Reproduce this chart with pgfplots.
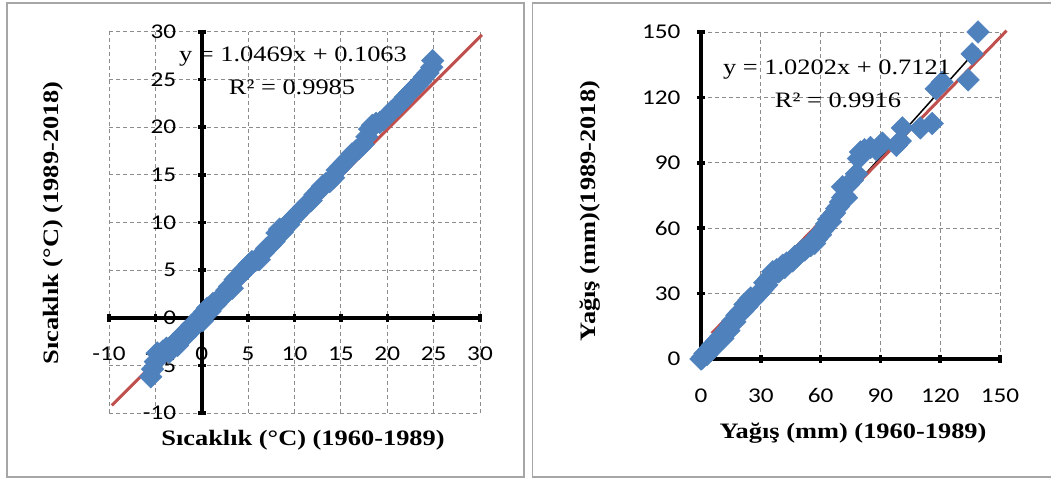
\documentclass[border=0pt]{standalone}
\usepackage{fontspec}
\setmainfont{Liberation Serif}[FakeStretch=1.2]
\newfontfamily\tickfont{Carlito}[FakeStretch=1.2]
\usepackage{pgfplots}
\pgfplotsset{compat=1.18}
\definecolor{xblue}{HTML}{4F81BD}
\definecolor{xred}{HTML}{C0504D}
\definecolor{xgrid}{HTML}{8C8C8C}
\definecolor{xbox}{HTML}{A6A6A6}
\pgfplotsset{
  common/.style={
    scale only axis, clip=false,
    tick align=outside,
    major tick length=8pt,
    grid=major,
    major grid style={xgrid, line width=1pt, dash pattern=on 4pt off 3pt},
    tick label style={font=\tickfont\fontsize{21}{24}\selectfont, text=black},
    xticklabel style={yshift=-22pt},
    hide obscured x ticks=false, hide obscured y ticks=false,
  },
  thickax/.style={
    every axis line/.append style={line width=3.5pt},
    axis line style={-, line width=3.5pt, black},
    x axis line style={-, line width=3.5pt},
    y axis line style={-, line width=3.5pt},
    every major tick/.append style={black, line width=3.5pt},
  },
  pts/.style={only marks, mark=square*, mark size=8pt, color=xblue, mark options={rotate=45, fill=xblue, draw=xblue}},
}
\begin{document}
\begin{tikzpicture}[x=1pt,y=1pt]
\useasboundingbox (0,0) rectangle (1051,483);
\draw[xbox, line width=1.3pt] (7,6) rectangle (524,480);
\draw[xbox, line width=1.3pt] (532.5,6) rectangle (1070,480);

\begin{axis}[common,
  at={(109pt,70pt)}, anchor=south west,
  width=371pt, height=381pt,
  xmin=-10, xmax=30, ymin=-10, ymax=30,
  axis lines=middle, thickax,
  yticklabel style={xshift=-18pt},
  xtick={-10,-5,0,5,10,15,20,25,30},
  xticklabels={-10,-5,0,5,10,15,20,25,30},
  ytick={-10,-5,0,5,10,15,20,25,30},
  yticklabels={-10,-5,0,5,10,15,20,25,30},
]
\addplot[pts] coordinates {
(-5.5,-6.2) (-5.3,-5.4) (-5.0,-4.6) (-4.8,-3.7) (-4.5,-4.0) (-4.2,-3.5)
(-3.8,-3.2) (-3.5,-3.6) (-3.2,-2.9) (-2.9,-2.6) (-2.6,-2.9) (-2.3,-2.1)
(-2.0,-1.7) (-1.7,-1.9) (-1.4,-1.2) (-1.1,-0.8) (-0.8,-1.0) (-0.5,-0.3)
(-0.2,0.1) (0.1,-0.3) (0.3,0.6) (0.6,1.0) (0.9,0.7) (1.2,1.5) (1.5,1.4)
(1.8,1.9) (2.1,2.2) (2.4,2.3) (2.7,2.9) (3.0,3.3) (3.3,3.1) (3.6,4.0)
(3.9,4.3) (4.2,4.5) (4.5,5.0) (4.8,5.1) (5.1,5.6) (5.4,5.9) (5.8,6.0)
(6.2,6.1) (6.6,6.8) (7.0,7.3) (7.4,7.6) (7.8,8.0) (8.1,8.9) (8.4,9.3)
(8.7,9.0) (9.0,9.6) (9.4,9.8) (9.8,10.4) (10.2,10.8) (10.6,11.2) (11.0,11.6)
(11.4,12.0) (11.8,12.3) (12.2,12.9) (12.6,13.3) (13.0,13.8) (13.4,14.1)
(13.8,14.3) (14.2,14.7) (14.6,15.5) (15.0,15.9) (15.4,16.3) (15.8,16.7)
(16.2,17.2) (16.6,17.5) (17.0,17.8) (17.4,18.2) (17.8,19.0) (18.1,19.8)
(18.4,20.2) (18.8,20.4) (19.2,20.5) (19.6,20.8) (20.0,21.2) (20.4,21.6)
(20.8,22.0) (21.2,22.3) (21.6,22.7) (22.0,23.2) (22.4,23.6) (22.8,24.0)
(23.2,24.4) (23.6,24.8) (24.0,25.3) (24.4,25.7) (24.8,26.3) (24.9,27.0)
};
\addplot[black, line width=1.5pt, no marks] coordinates {(-5.5,-5.65) (25.2,26.49)};
\addplot[xred, line width=3pt, no marks] coordinates {(-9.7,-9.2) (30.2,29.7)};
\end{axis}

\begin{axis}[common,
  at={(701pt,124pt)}, anchor=south west,
  width=299pt, height=327pt,
  xmin=0, xmax=150, ymin=0, ymax=150,
  axis lines=left, thickax,
  yticklabel style={xshift=-13pt},
  xtick={0,30,60,90,120,150},
  xticklabels={0,30,60,90,120,150},
  ytick={0,30,60,90,120,150},
  yticklabels={0,30,60,90,120,150},
]
\addplot[pts] coordinates {
(0,0) (0.5,0.3) (1,1) (2,2.5) (3,2) (4,4.5) (5,4) (6,6.5) (7,6) (8,8.5)
(9,8) (10,10.5) (11,9.5) (12,12) (13,13.5) (14,13) (15,16) (16,17.5)
(17,17) (18,20) (19,21) (20,22) (21,22) (22,25) (23,24) (24,27) (25,28)
(26,27) (27,28) (28,29) (29,30) (30,31) (31,32) (32,35) (33,34) (34,37)
(35,38) (36,40) (37,39) (38,41) (39,40) (40,42) (41,43) (42,42) (43,44)
(44,44) (45,45) (46,45) (47,47) (48,47) (49,48) (50,49) (51,50) (52,50)
(53,51) (54,52) (55,52) (56,54) (57,53) (58,55) (59,57) (60,57) (61,59)
(62,60) (63,62) (64,64) (65,63) (66,66) (67,67) (68,69) (69,70) (70,72)
(71,74) (72,75) (73,74) (71,79) (74,80) (76,82) (78,85) (79,92) (80,95)
(82,96) (85,97) (88,96) (91,99) (98,98) (100,100) (101,106) (110,106)
(116,108) (118,124) (121,127) (134,128) (136,140) (139,150)
};
\addplot[black, line width=1.5pt, no marks] coordinates {(0,0.71) (139,142.52)};
\addplot[xred, line width=3pt, no marks] coordinates {(5.4,11.8) (153.3,150.6)};
\end{axis}

\begin{scope}[font=\bfseries\fontsize{22}{26}\selectfont]
\node[rotate=90] at (53,260) {Sıcaklık (°C) (1989-2018)};
\node at (303,43) {Sıcaklık (°C) (1960-1989)};
\node[rotate=90] at (590,272) {Yağış (mm)(1989-2018)};
\node at (853,50) {Yağış (mm) (1960-1989)};
\end{scope}
\begin{scope}[font=\fontsize{22}{26}\selectfont]
\node at (293,426) {y = 1.0469x + 0.1063};
\node at (292,396) {R² = 0.9985};
\node at (837,413) {y = 1.0202x + 0.7121};
\node at (838,383) {R² = 0.9916};
\end{scope}
\end{tikzpicture}
\end{document}
